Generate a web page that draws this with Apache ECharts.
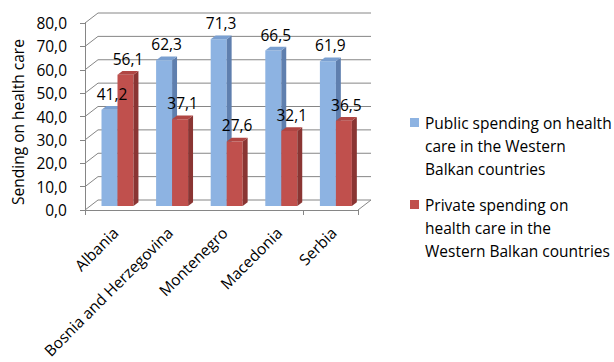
<!DOCTYPE html>
<html>
<head>
<meta charset="utf-8">
<script src="https://cdn.jsdelivr.net/npm/echarts@6/dist/echarts.min.js"></script>
<style>
  html, body { margin: 0; padding: 0; background: #fff; }
  #chart { width: 614px; height: 362px; }
</style>
</head>
<body>
<div id="chart"></div>
<script>
// Health spending shares by country, Western Balkans
const countries = ['Albania', 'Bosnia and Herzegovina', 'Montenegro', 'Macedonia', 'Serbia'];
const publicSpending = [41.2, 62.3, 71.3, 66.5, 61.9];
const privateSpending = [56.1, 37.1, 27.6, 32.1, 36.5];
const seriesNames = [
  'Public spending on health care in the Western Balkan countries',
  'Private spending on health care in the Western Balkan countries'
];
const legendLines = [
  ['Public spending on health', 'care in the Western', 'Balkan countries'],
  ['Private spending on', 'health care in the', 'Western Balkan countries']
];
const yTicks = [0, 10, 20, 30, 40, 50, 60, 70, 80];
const yTitle = 'Sending on health care';

// face colours: front, top, side
const palette = [
  { front: '#8DB3E2', top: '#7A9FD0', side: '#5F7FAE' },
  { front: '#C0504D', top: '#B04643', side: '#8A3533' }
];

const FONT = '"Open Sans", sans-serif';
const FS = 15.5;
const GRID = { left: 85, top: 23, width: 273, height: 187 };
// full depth of the box (back wall offset) and the slab the bars occupy
const DX = 13, DY = -10;
const FRONT = 0.4, BACK = 0.78;
const BAR_W = 16;
const LINE = '#868686';

const fmt = v => v.toFixed(1).replace('.', ',');

function frameItem(params, api) {
  const cs = params.coordSys;
  const v = api.value(0);
  const y = api.coord([0, v])[1];
  const x0 = cs.x, x1 = cs.x + cs.width;
  const children = [{
    type: 'polyline',
    shape: { points: [[x0, y], [x0 + DX, y + DY], [x1 + DX, y + DY]] },
    style: { stroke: LINE, lineWidth: 1, fill: null }
  }];
  if (v === 0) {
    children.push({
      type: 'line',
      shape: { x1: x1, y1: y, x2: x1 + DX, y2: y + DY },
      style: { stroke: LINE, lineWidth: 1 }
    });
  }
  return { type: 'group', children: children };
}

function barItem(seriesIdx) {
  const col = palette[seriesIdx];
  const zFace = seriesIdx + 1;
  return function (params, api) {
    const idx = api.value(0);
    const val = api.value(1);
    const base = api.coord([idx, 0]);
    const topPt = api.coord([idx, val]);
    const ox = DX * FRONT, oy = DY * FRONT;
    const dx = DX * (BACK - FRONT), dy = DY * (BACK - FRONT);
    const x0 = base[0] + (seriesIdx === 0 ? -BAR_W : 0) + ox;
    const x1 = x0 + BAR_W;
    const yb = base[1] + oy;
    const yt = topPt[1] + oy;
    return {
      type: 'group',
      children: [
        { type: 'rect', z2: zFace, shape: { x: x0, y: yt, width: BAR_W, height: yb - yt },
          style: { fill: col.front } },
        { type: 'polygon', z2: zFace, shape: { points: [[x1, yb], [x1, yt], [x1 + dx, yt + dy], [x1 + dx, yb + dy]] },
          style: { fill: col.side } },
        { type: 'polygon', z2: zFace, shape: { points: [[x0, yt], [x1, yt], [x1 + dx, yt + dy], [x0 + dx, yt + dy]] },
          style: { fill: col.top } },
        { type: 'text', z2: 50, x: x0 + BAR_W / 2 + dx / 2, y: yt - 16,
          style: { text: fmt(val), font: FS + 'px ' + FONT, fill: '#000',
                   align: 'center', verticalAlign: 'middle' } }
      ]
    };
  };
}

const legendGraphics = [];
const legendTops = [122.5, 204.5];
legendLines.forEach((lines, i) => {
  legendGraphics.push({
    type: 'rect', left: 410, top: legendTops[i] - 4.5,
    shape: { width: 9, height: 9 }, style: { fill: palette[i].front }
  });
  lines.forEach((t, j) => {
    legendGraphics.push({
      type: 'text', x: 425, y: legendTops[i] + j * 23,
      style: { text: t, font: FS + 'px ' + FONT, fill: '#000', verticalAlign: 'middle' }
    });
  });
});

const chart = echarts.init(document.getElementById('chart'), null, { renderer: 'svg' });
chart.setOption({
  animation: false,
  backgroundColor: '#fff',
  grid: [
    Object.assign({}, GRID),
    Object.assign({}, GRID, { left: GRID.left + 3 })
  ],
  xAxis: [
    { type: 'category', gridIndex: 0, data: countries,
      axisLine: { lineStyle: { color: LINE } },
      axisTick: { show: true, length: 5, lineStyle: { color: LINE } },
      axisLabel: { show: false } },
    { type: 'category', gridIndex: 1, data: countries,
      axisLine: { show: false }, axisTick: { show: false },
      axisLabel: { rotate: 45, margin: 20, interval: 0, fontSize: FS,
                   fontFamily: FONT, color: '#000' } }
  ],
  yAxis: [
    { type: 'value', gridIndex: 0, min: yTicks[0], max: yTicks[yTicks.length - 1], interval: 10,
      axisLine: { show: true, lineStyle: { color: LINE } },
      axisTick: { show: true, length: 5, lineStyle: { color: LINE } },
      splitLine: { show: false },
      axisLabel: { formatter: fmt, margin: 18, fontSize: FS, fontFamily: FONT, color: '#000' } },
    { type: 'value', gridIndex: 1, min: 0, max: 80, show: false }
  ],
  graphic: [
    { type: 'text', x: 18, y: 122, rotation: Math.PI / 2,
      style: { text: yTitle, font: FS + 'px ' + FONT, fill: '#000',
               align: 'center', verticalAlign: 'middle' } }
  ].concat(legendGraphics),
  series: [
    { type: 'custom', name: 'frame', xAxisIndex: 0, yAxisIndex: 0, clip: false, z: 1,
      data: yTicks.map(v => [v]), renderItem: frameItem, silent: true },
    { type: 'custom', name: seriesNames[0], xAxisIndex: 0, yAxisIndex: 0, clip: false, z: 2,
      data: publicSpending.map((v, i) => [i, v]), renderItem: barItem(0) },
    { type: 'custom', name: seriesNames[1], xAxisIndex: 0, yAxisIndex: 0, clip: false, z: 2,
      data: privateSpending.map((v, i) => [i, v]), renderItem: barItem(1) }
  ]
});
</script>
</body>
</html>
